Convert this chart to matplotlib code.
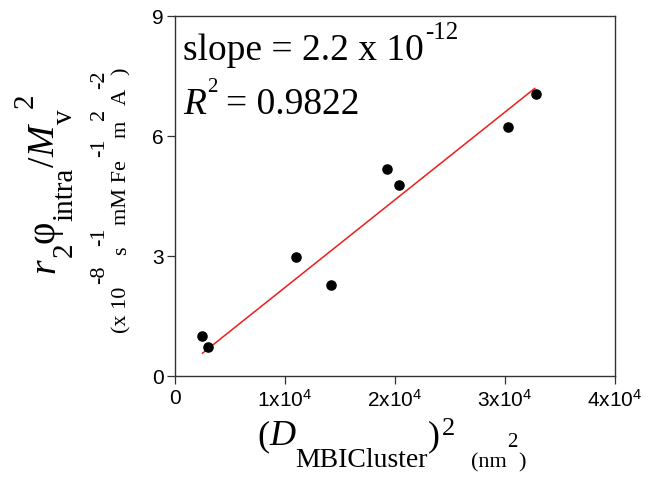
import matplotlib
matplotlib.use("Agg")
import matplotlib.pyplot as plt
import numpy as np

# ---- data ----
x_vals = [2430, 2970, 11000, 14150, 19270, 20390, 30240, 32790]
y_vals = [1.01, 0.73, 2.98, 2.27, 5.17, 4.78, 6.23, 7.04]
fit_x = [2500, 32700]
fit_y = [0.57, 7.19]
x_ticks = [0, 10000, 20000, 30000, 40000]
x_tick_labels = ["0", r"1x10$^{4}$", r"2x10$^{4}$", r"3x10$^{4}$", r"4x10$^{4}$"]
y_ticks = [0, 3, 6, 9]
y_tick_labels = ["0", "3", "6", "9"]

W, H = 649, 486
plt.rcParams['mathtext.fontset'] = 'custom'
plt.rcParams['mathtext.rm'] = 'Liberation Sans'
plt.rcParams['mathtext.default'] = 'regular'

fig = plt.figure(figsize=(W / 100, H / 100), dpi=100)
ax = fig.add_axes([175 / W, 1 - 376 / H, (615 - 175) / W, (376 - 16) / H])

ax.plot(fit_x, fit_y, color='#ee1c1c', lw=1.1, zorder=2)
ax.plot(x_vals, y_vals, 'o', color='black', ms=6.6, zorder=3)

ax.set_xlim(0, 40000)
ax.set_ylim(0, 9)
ax.set_xticks(x_ticks)
ax.set_xticklabels(x_tick_labels)
ax.set_yticks(y_ticks)
ax.set_yticklabels(y_tick_labels)
for lab in ax.get_xticklabels() + ax.get_yticklabels():
    lab.set_fontfamily('Liberation Sans')
    lab.set_fontsize(15)
ax.tick_params(direction='out', length=6, width=0.9, color='#333333', top=False, right=False)
ax.tick_params(axis='y', pad=2)
ax.tick_params(axis='x', pad=3)
for sp in ax.spines.values():
    sp.set_linewidth(1.0)
    sp.set_color('#333333')

renderer = fig.canvas.get_renderer()
SERIF = 'Liberation Serif'


def rich(x0, y0, pieces, rotated=False):
    """pieces: (text, size, style, dy_px, gap_px). x0,y0 in image px (top origin)."""
    pos = 0.0
    for s, size, style, dy, gap in pieces:
        pos += gap
        if not rotated:
            t = fig.text((x0 + pos) / W, (H - (y0 - dy)) / H, s, fontsize=size,
                         fontstyle=style, family=SERIF, ha='left', va='baseline')
            pos += t.get_window_extent(renderer).width
        else:
            t = fig.text((x0 - dy) / W, (H - (y0 - pos)) / H, s, fontsize=size,
                         fontstyle=style, family=SERIF, ha='left', va='baseline',
                         rotation=90, rotation_mode='anchor')
            pos += t.get_window_extent(renderer).height


# annotation
rich(183, 60, [("slope = 2.2 x 10", 27, 'normal', 0, 0),
               ("-12", 18, 'normal', 21, 1)])
rich(183, 114, [("R", 27, 'italic', 0, 0),
                ("2", 15, 'normal', 22, 1),
                ("= 0.9822", 27, 'normal', 0, 9)])

# y label, line 1
rich(54, 273, [("r", 27, 'italic', 0, 0),
               ("2", 21, 'normal', -18, 1),
               ("\u03c6", 28, 'normal', 0, 0),
               ("intra", 21, 'normal', -18, 0),
               ("/", 27, 'normal', 0, 0),
               ("M", 27, 'italic', 0, 0),
               ("v", 21, 'normal', -18, 1),
               ("2", 21, 'normal', 21, 2)], rotated=True)
# y label, line 2
rich(126, 333, [("(x 10", 16, 'normal', 0, 0),
                ("-8", 16, 'normal', 22, 3),
                ("s", 16, 'normal', 0, 10),
                ("-1", 16, 'normal', 22, 1),
                ("mM Fe", 16, 'normal', 0, 2),
                ("-1", 16, 'normal', 22, 3),
                ("m", 16, 'normal', 0, 1),
                ("2", 16, 'normal', 22, 1),
                ("A", 16, 'normal', 0, 3),
                ("-2", 16, 'normal', 22, 0),
                (")", 16, 'normal', 0, -4)], rotated=True)

# x label
rich(257, 445, [("(", 26, 'normal', 0, 0),
                ("D", 26, 'italic', 0, 0),
                ("MBICluster", 20, 'normal', -22, 0),
                (")", 26, 'normal', 0, 0),
                ("2", 19, 'normal', 10, 2),
                ("(nm", 16, 'normal', -22, 16),
                ("2", 15, 'normal', -2, 1),
                (")", 16, 'normal', -22, 0)])

fig.savefig("out.png", dpi=100)
